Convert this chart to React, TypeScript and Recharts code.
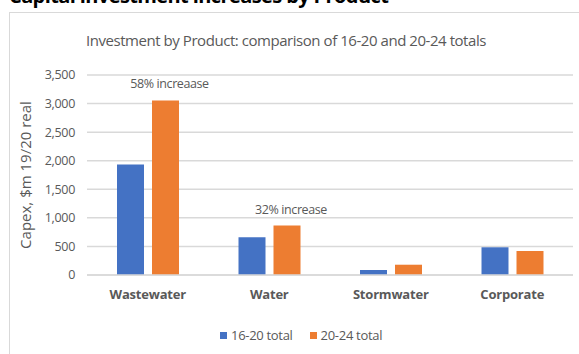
import React from "react";
import {
  BarChart,
  Bar,
  XAxis,
  YAxis,
  CartesianGrid,
  LabelList,
} from "recharts";

const categories = ["Wastewater", "Water", "Stormwater", "Corporate"];
const total1620 = [1935, 660, 88, 485];
const total2024 = [3055, 865, 180, 420];
const notes = ["58% increaase", "32% increase", "", ""];
const seriesNames = ["16-20 total", "20-24 total"];
const yTicks = [0, 500, 1000, 1500, 2000, 2500, 3000, 3500];

const FONT = '"Liberation Sans Narrow", "Open Sans", sans-serif';
const GREY = "#595959";
const BLUE = "#4472C4";
const ORANGE = "#ED7D31";

const data = categories.map((name, i) => ({
  name,
  a: total1620[i],
  b: total2024[i],
  note: notes[i],
}));

const fmt = (v: number) => v.toLocaleString("en-US");

// text above the bar, not wrapped to the bar's width
function NoteLabel(props: any) {
  const { x, y, width, value } = props;
  if (!value) return null;
  return (
    <text
      x={x + width / 2 + 4}
      y={y - 12}
      textAnchor="middle"
      fontSize={12.5}
      fill={GREY}
      fontFamily={FONT}
      letterSpacing={-0.4}
    >
      {value}
    </text>
  );
}

export default function App() {
  return (
    <div
      style={{
        position: "absolute",
        left: 0,
        top: 0,
        width: 579,
        height: 354,
        overflow: "hidden",
        background: "#fff",
        fontFamily: FONT,
      }}
    >
      <div
        style={{
          position: "absolute",
          left: 9,
          top: -14,
          fontSize: 20,
          lineHeight: "20px",
          fontWeight: 700,
          color: "#000",
          whiteSpace: "nowrap",
          letterSpacing: -0.6,
        }}
      >
        Capital investment increases by Product
      </div>
      <div
        style={{
          position: "absolute",
          left: 9,
          top: 12,
          width: 600,
          height: 400,
          border: "1px solid #d9d9d9",
          boxSizing: "border-box",
        }}
      />
      <div
        style={{
          position: "absolute",
          left: 86,
          top: 30,
          fontSize: 15,
          color: GREY,
          whiteSpace: "nowrap",
          letterSpacing: -0.45,
        }}
      >
        Investment by Product: comparison of 16-20 and 20-24 totals
      </div>
      <div style={{ position: "absolute", left: 0, top: 0 }}>
        <BarChart
          width={579}
          height={354}
          data={data}
          margin={{ top: 75, right: 6, left: 0, bottom: 49 }}
          barGap={8}
          barSize={27}
        >
          <CartesianGrid vertical={false} stroke="#d9d9d9" strokeWidth={1.5} />
          <XAxis
            dataKey="name"
            height={30}
            axisLine={{ stroke: "#d9d9d9", strokeWidth: 1.5 }}
            tickLine={false}
            tickMargin={9}
            tick={{ fontSize: 13, fill: GREY, fontWeight: 700, fontFamily: FONT, letterSpacing: -0.2 }}
          />
          <YAxis
            width={87}
            domain={[0, 3500]}
            ticks={yTicks}
            interval={0}
            axisLine={false}
            tickLine={false}
            tickMargin={6}
            tickFormatter={fmt}
            tick={{ fontSize: 12.5, fill: GREY, fontFamily: FONT, letterSpacing: -0.3 }}
            label={{
              value: "Capex, $m 19/20 real",
              angle: -90,
              position: "insideLeft",
              offset: 26,
              style: { fontSize: 15, fill: GREY, fontFamily: FONT, textAnchor: "middle" },
            }}
          />
          <Bar dataKey="a" name={seriesNames[0]} fill={BLUE} isAnimationActive={false} />
          <Bar dataKey="b" name={seriesNames[1]} fill={ORANGE} isAnimationActive={false}>
            <LabelList dataKey="note" content={NoteLabel} />
          </Bar>
        </BarChart>
      </div>
      <div
        style={{
          position: "absolute",
          left: 220,
          top: 326,
          display: "flex",
          gap: 17,
          fontSize: 13,
          color: GREY,
          letterSpacing: -0.3,
        }}
      >
        {seriesNames.map((n, i) => (
          <div key={n} style={{ display: "flex", alignItems: "center", gap: 4 }}>
            <span
              style={{
                display: "inline-block",
                width: 7,
                height: 7,
                background: i === 0 ? BLUE : ORANGE,
              }}
            />
            <span>{n}</span>
          </div>
        ))}
      </div>
    </div>
  );
}
